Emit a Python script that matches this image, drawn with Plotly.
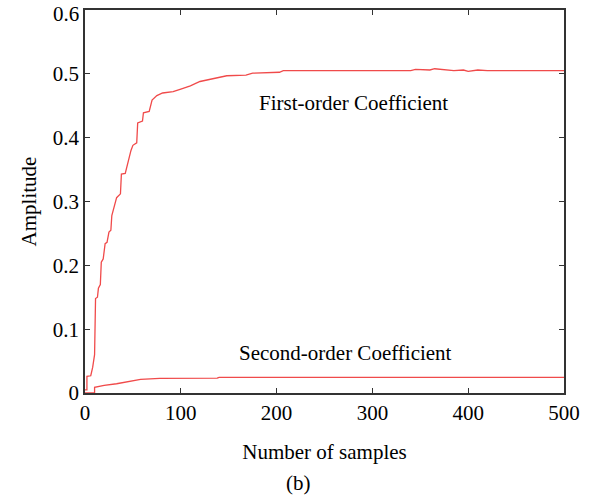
import plotly.graph_objects as go

# First-order coefficient trace (sample index, amplitude)
first_x = [0, 2, 2, 6, 8, 10, 11, 13, 14, 16, 17, 19, 21, 23, 25, 27, 28, 30, 33, 37, 38, 42,
           45, 48, 50, 54, 55, 60, 61, 67, 70, 75, 81, 92, 100, 110, 120, 134, 141, 148, 168,
           175, 203, 207, 300, 340, 345, 360, 365, 375, 385, 395, 400, 410, 420, 500]
first_y = [0.005, 0.005, 0.026, 0.027, 0.04, 0.06, 0.148, 0.15, 0.164, 0.17, 0.205, 0.21, 0.234,
           0.236, 0.252, 0.255, 0.278, 0.29, 0.306, 0.312, 0.343, 0.344, 0.363, 0.38, 0.388,
           0.392, 0.423, 0.426, 0.439, 0.441, 0.459, 0.466, 0.470, 0.472, 0.476, 0.481, 0.488,
           0.492, 0.495, 0.497, 0.498, 0.501, 0.5025, 0.505, 0.505, 0.505, 0.507, 0.506, 0.508,
           0.507, 0.505, 0.506, 0.504, 0.506, 0.505, 0.505]

# Second-order coefficient trace
second_x = [0, 10, 10, 20, 33, 43, 57, 58, 78, 138, 140, 500]
second_y = [0, 0, 0.009, 0.012, 0.0145, 0.017, 0.0207, 0.0215, 0.0229, 0.0232, 0.0245, 0.0245]

x_ticks = [0, 100, 200, 300, 400, 500]
y_ticks = [0, 0.1, 0.2, 0.3, 0.4, 0.5, 0.6]
y_tick_text = ["0", "0.1", "0.2", "0.3", "0.4", "0.5", "0.6"]

line_color = "#f04a4a"
font_family = "Liberation Serif, Times New Roman, serif"
tick_font = dict(family=font_family, size=21, color="black")

fig = go.Figure()
fig.add_trace(go.Scatter(x=first_x, y=first_y, mode="lines",
                         line=dict(color=line_color, width=1.3), showlegend=False))
fig.add_trace(go.Scatter(x=second_x, y=second_y, mode="lines",
                         line=dict(color=line_color, width=1.3), showlegend=False))

axis_common = dict(showline=True, linecolor="#333333", linewidth=1.5, mirror="ticks",
                   ticks="inside", ticklen=5, tickwidth=1.2, tickcolor="#333333",
                   showgrid=False, zeroline=False, tickfont=tick_font)

fig.update_xaxes(range=[0, 500], tickvals=x_ticks,
                 title=dict(text="Number of samples", font=tick_font, standoff=20),
                 **axis_common)
# the top tick label sits at the very edge of the figure, draw it as an annotation
fig.update_yaxes(range=[0, 0.6], tickvals=y_ticks,
                 ticktext=y_tick_text[:-1] + [""],
                 title=dict(text="Amplitude", font=tick_font, standoff=10),
                 **axis_common)
fig.add_annotation(x=0, xref="paper", y=y_ticks[-1], yref="y", text=y_tick_text[-1],
                   showarrow=False, xanchor="right", yanchor="middle", xshift=-4, yshift=-4,
                   font=tick_font)

fig.add_annotation(x=280, y=0.454, text="First-order Coefficient", showarrow=False,
                   font=tick_font)
fig.add_annotation(x=272, y=0.063, text="Second-order Coefficient", showarrow=False,
                   font=tick_font)
fig.add_annotation(x=0.446, y=-0.236, xref="paper", yref="paper", yanchor="middle",
                   text="(b)", showarrow=False, font=tick_font)

fig.update_layout(width=595, height=497, margin=dict(l=85, r=31, t=8, b=104),
                  plot_bgcolor="white", paper_bgcolor="white")

fig.write_html("out.html")
